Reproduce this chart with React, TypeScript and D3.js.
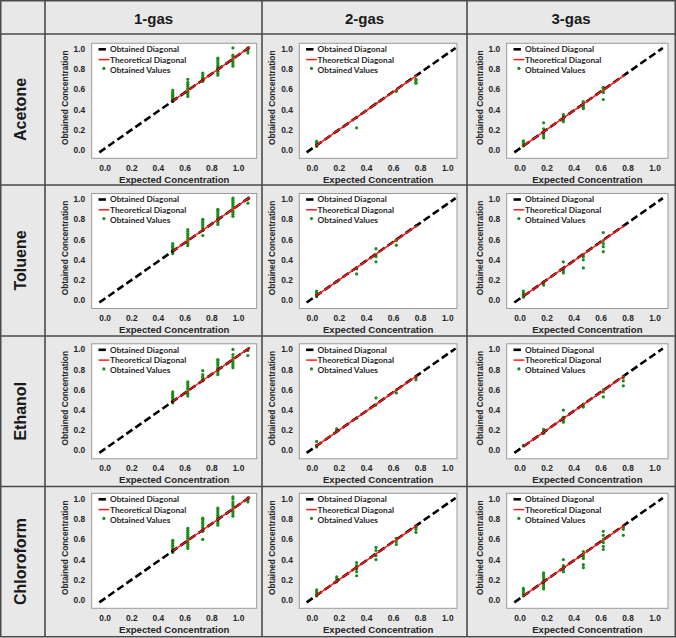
import React from 'react';
import * as d3 from 'd3';

// ---------- labels ----------
const gases = ['1-gas', '2-gas', '3-gas'];
const analytes = ['Acetone', 'Toluene', 'Ethanol', 'Chloroform'];
const legendLabels = ['Obtained Diagonal', 'Theoretical Diagonal', 'Obtained Values'];
const xTicks = [0, 0.2, 0.4, 0.6, 0.8, 1.0];
const yTicks = [0, 0.2, 0.4, 0.6, 0.8, 1.0];
const xAxisLabel = 'Expected Concentration';
const yAxisLabel = 'Obtained Concentration';

// ---------- expected concentration levels per column ----------
const levels1 = [0.507, 0.62, 0.732, 0.845, 0.958, 1.07];
const levels2 = [0.032, 0.18, 0.327, 0.47, 0.62, 0.765];
const levels3 = [0.025, 0.175, 0.321, 0.469, 0.617, 0.765];

// ---------- diagonals [x,y] endpoints ----------
const diag1 = [[-0.043, -0.023], [1.086, 1.02]];
const theo1 = [[0.507, 0.485], [1.086, 1.02]];
const diag23 = [[-0.042, -0.023], [1.058, 1.01]];
const theo23 = [[0.025, 0.04], [0.775, 0.74]];

// ---------- obtained values (one list per expected level) ----------
const acetone1 = [
  [0.48, 0.49, 0.5, 0.51, 0.52, 0.53, 0.54, 0.55, 0.57, 0.59],
  [0.53, 0.55, 0.57, 0.58, 0.6, 0.61, 0.63, 0.65, 0.67, 0.7],
  [0.68, 0.69, 0.7, 0.71, 0.72, 0.74, 0.76],
  [0.74, 0.76, 0.78, 0.8, 0.82, 0.84, 0.86, 0.88, 0.9, 0.91],
  [0.83, 0.85, 0.87, 0.89, 0.91, 0.93, 0.94, 1.01],
  [0.96, 0.98, 1.0, 1.01],
];
const toluene1 = [
  [0.46, 0.47, 0.48, 0.49, 0.5, 0.52, 0.53, 0.54, 0.56],
  [0.54, 0.56, 0.58, 0.6, 0.62, 0.64, 0.66, 0.68, 0.7],
  [0.64, 0.69, 0.71, 0.73, 0.75, 0.77, 0.79, 0.8],
  [0.75, 0.77, 0.79, 0.81, 0.83, 0.85, 0.87, 0.89, 0.9],
  [0.83, 0.85, 0.87, 0.89, 0.91, 0.93, 0.95, 0.97, 0.99, 1.01],
  [0.96, 1.0],
];
const ethanol1 = [
  [0.47, 0.48, 0.49, 0.5, 0.52, 0.53, 0.55, 0.56, 0.58],
  [0.54, 0.56, 0.57, 0.59, 0.61, 0.63, 0.65, 0.67, 0.68],
  [0.69, 0.7, 0.72, 0.73, 0.75, 0.79],
  [0.75, 0.77, 0.79, 0.81, 0.83, 0.85, 0.87, 0.89, 0.9],
  [0.82, 0.84, 0.86, 0.88, 0.9, 0.92, 0.95, 1.0],
  [0.94, 0.99],
];
const chloroform1 = [
  [0.47, 0.48, 0.49, 0.5, 0.51, 0.53, 0.54, 0.56, 0.58, 0.59],
  [0.51, 0.53, 0.55, 0.57, 0.59, 0.61, 0.63, 0.65, 0.67, 0.69, 0.71],
  [0.6, 0.68, 0.7, 0.72, 0.74, 0.76, 0.78, 0.8, 0.81],
  [0.74, 0.76, 0.78, 0.8, 0.82, 0.84, 0.86, 0.88, 0.9, 0.91],
  [0.83, 0.85, 0.87, 0.89, 0.91, 0.93, 0.95, 0.97, 1.0, 1.02],
  [0.97, 0.99, 1.01],
];

const acetone2 = [
  [0.035, 0.045, 0.06, 0.07, 0.085],
  [0.185],
  [0.22, 0.32],
  [0.46],
  [0.58, 0.59],
  [0.66, 0.67, 0.69, 0.7],
];
const toluene2 = [
  [0.035, 0.05, 0.065, 0.08, 0.09],
  [0.185],
  [0.26, 0.31],
  [0.38, 0.43, 0.45, 0.51],
  [0.545, 0.59, 0.6],
  [0.735],
];
const ethanol2 = [
  [0.035, 0.05, 0.09],
  [0.2, 0.215],
  [0.32],
  [0.45, 0.52],
  [0.57, 0.6],
  [0.7, 0.72],
];
const chloroform2 = [
  [0.04, 0.06, 0.08, 0.1],
  [0.18, 0.21, 0.23],
  [0.24, 0.28, 0.31, 0.34, 0.37],
  [0.4, 0.44, 0.49, 0.52],
  [0.55, 0.58, 0.61],
  [0.67, 0.7, 0.72],
];

const acetone3 = [
  [0.04, 0.05, 0.06, 0.08, 0.09],
  [0.12, 0.14, 0.16, 0.18, 0.21, 0.27],
  [0.28, 0.3, 0.32, 0.33, 0.35],
  [0.41, 0.42, 0.44, 0.45, 0.47, 0.48],
  [0.5, 0.57, 0.59, 0.61, 0.62],
  [],
];
const toluene3 = [
  [0.03, 0.045, 0.06, 0.075, 0.09],
  [0.15, 0.17, 0.18],
  [0.27, 0.29, 0.31, 0.38],
  [0.32, 0.4, 0.43, 0.45],
  [0.48, 0.53, 0.56, 0.59, 0.67],
  [],
];
const ethanol3 = [
  [0.045, 0.05],
  [0.17, 0.19, 0.21],
  [0.28, 0.3, 0.33, 0.4],
  [0.43, 0.45, 0.46],
  [0.53, 0.58, 0.6],
  [0.64, 0.69, 0.72],
];
const chloroform3 = [
  [0.04, 0.06, 0.08, 0.1, 0.115],
  [0.11, 0.13, 0.15, 0.17, 0.19, 0.21, 0.23, 0.25, 0.27],
  [0.28, 0.3, 0.32, 0.34, 0.4],
  [0.32, 0.35, 0.41, 0.43, 0.45, 0.48],
  [0.5, 0.53, 0.57, 0.6, 0.64, 0.68],
  [0.64, 0.7, 0.72],
];

const panelData = [
  [acetone1, acetone2, acetone3],
  [toluene1, toluene2, toluene3],
  [ethanol1, ethanol2, ethanol3],
  [chloroform1, chloroform2, chloroform3],
];
const levelSets = [levels1, levels2, levels3];
const diagSets = [diag1, diag23, diag23];
const theoSets = [theo1, theo23, theo23];

// ---------- layout ----------
const W = 676;
const H = 638;
const colLines = [45, 262, 467];
const rowLines = [34, 185, 336, 486.5];
const boxX = [91.7, 299.3, 506.7];
const boxW = [165, 157.7, 161.3];
const xDomains = [[-0.1, 1.136], [-0.096, 1.068], [-0.0985, 1.096]];
const boxY = [43.3, 193.5, 343.8, 493.3];
const boxH = 115;
const yDomain = [-0.082, 1.056];

const SANS = '"Liberation Sans", Arial, sans-serif';
const LEG = 'Lato, "Liberation Sans", sans-serif';
const GREEN = '#1a8c1a';
const TEXT = '#262626';

function Panel({ r, c }: { r: number; c: number }) {
  const x0 = boxX[c];
  const y0 = boxY[r];
  const w = boxW[c];
  const xs = d3.scaleLinear().domain(xDomains[c]).range([x0, x0 + w]);
  const ys = d3.scaleLinear().domain(yDomain).range([y0 + boxH, y0]);
  const line = d3.line<number[]>().x((d) => xs(d[0])).y((d) => ys(d[1]));
  const levels = levelSets[c];
  const data = panelData[r][c];
  const pts: { x: number; y: number }[] = [];
  data.forEach((vals, i) => vals.forEach((v) => pts.push({ x: levels[i], y: v })));
  const legRows = [y0 + 6, y0 + 16.3, y0 + 26.6];
  const hx0 = x0 + 6.8;
  const hx1 = x0 + 17.6;
  return (
    <g>
      <rect x={x0} y={y0} width={w} height={boxH} fill="#fff" stroke="#9a9a9a" strokeWidth={1} />
      {pts.map((p, i) => (
        <circle key={i} cx={xs(p.x)} cy={ys(p.y)} r={1.6} fill={GREEN} />
      ))}
      <path d={line(diagSets[c] as number[][]) || ''} fill="none" stroke="#000" strokeWidth={2.6} strokeDasharray="7.4 3.6" />
      <path d={line(theoSets[c] as number[][]) || ''} fill="none" stroke="#ff1a1a" strokeWidth={1.5} />
      {/* legend */}
      <line x1={hx0} x2={hx1} y1={legRows[0]} y2={legRows[0]} stroke="#000" strokeWidth={2.6} strokeDasharray="7.4 3.6" />
      <line x1={hx0} x2={hx1} y1={legRows[1]} y2={legRows[1]} stroke="#ff1a1a" strokeWidth={1.5} />
      <circle cx={(hx0 + hx1) / 2} cy={legRows[2] - 1.5} r={1.6} fill={GREEN} />
      {legendLabels.map((t, i) => (
        <text key={t} x={x0 + 18.3} y={legRows[i]} dy="0.35em" fontFamily={LEG} fontWeight={700} fontSize={8.3} fill={TEXT}>
          {t}
        </text>
      ))}
      {/* ticks */}
      {xTicks.map((t) => (
        <text key={'x' + t} x={xs(t)} y={y0 + boxH + 12.4} textAnchor="middle" fontFamily={SANS} fontWeight={700} fontSize={8.4} fill={TEXT}>
          {t.toFixed(1)}
        </text>
      ))}
      {yTicks.map((t) => (
        <text key={'y' + t} x={x0 - 6.5} y={ys(t)} dy="0.35em" textAnchor="end" fontFamily={SANS} fontWeight={700} fontSize={8.4} fill={TEXT}>
          {t.toFixed(1)}
        </text>
      ))}
      <text x={x0 + w / 2} y={y0 + boxH + 24.3} textAnchor="middle" fontFamily={SANS} fontWeight={700} fontSize={9.6} fill={TEXT}>
        {xAxisLabel}
      </text>
      <text
        transform={`translate(${x0 - 24},${y0 + boxH / 2 - 3}) rotate(-90)`}
        textAnchor="middle"
        fontFamily={SANS}
        fontWeight={700}
        fontSize={8.3}
        fill={TEXT}
      >
        {yAxisLabel}
      </text>
    </g>
  );
}

export default function App() {
  const colEdges = [...colLines, W - 1];
  const rowEdges = [...rowLines, H - 1.5];
  return (
    <svg width={W} height={H} style={{ position: 'absolute', left: 0, top: 0, background: '#fff' }}>
      <rect x={0.75} y={0.75} width={W - 1.5} height={H - 2} fill="#e8e8e8" stroke="#4a4a4a" strokeWidth={1.5} />
      {/* grid lines */}
      {rowLines.map((y) => (
        <line key={'r' + y} x1={0.75} x2={W - 0.75} y1={y} y2={y} stroke="#4a4a4a" strokeWidth={1.6} />
      ))}
      {colLines.map((x) => (
        <line key={'c' + x} x1={x} x2={x} y1={0.75} y2={H - 1.25} stroke="#4a4a4a" strokeWidth={1.6} />
      ))}
      {/* headers */}
      {gases.map((g, i) => (
        <text key={g} x={(colEdges[i] + colEdges[i + 1]) / 2} y={23.5} textAnchor="middle" fontFamily={SANS} fontWeight={700} fontSize={15} fill="#1a1a1a">
          {g}
        </text>
      ))}
      {analytes.map((a, i) => (
        <text
          key={a}
          transform={`translate(26,${(rowEdges[i] + rowEdges[i + 1]) / 2}) rotate(-90)`}
          textAnchor="middle"
          fontFamily={SANS}
          fontWeight={700}
          fontSize={16}
          fill="#1a1a1a"
        >
          {a}
        </text>
      ))}
      {analytes.map((_, r) => gases.map((__, c) => <Panel key={r + '-' + c} r={r} c={c} />))}
    </svg>
  );
}
